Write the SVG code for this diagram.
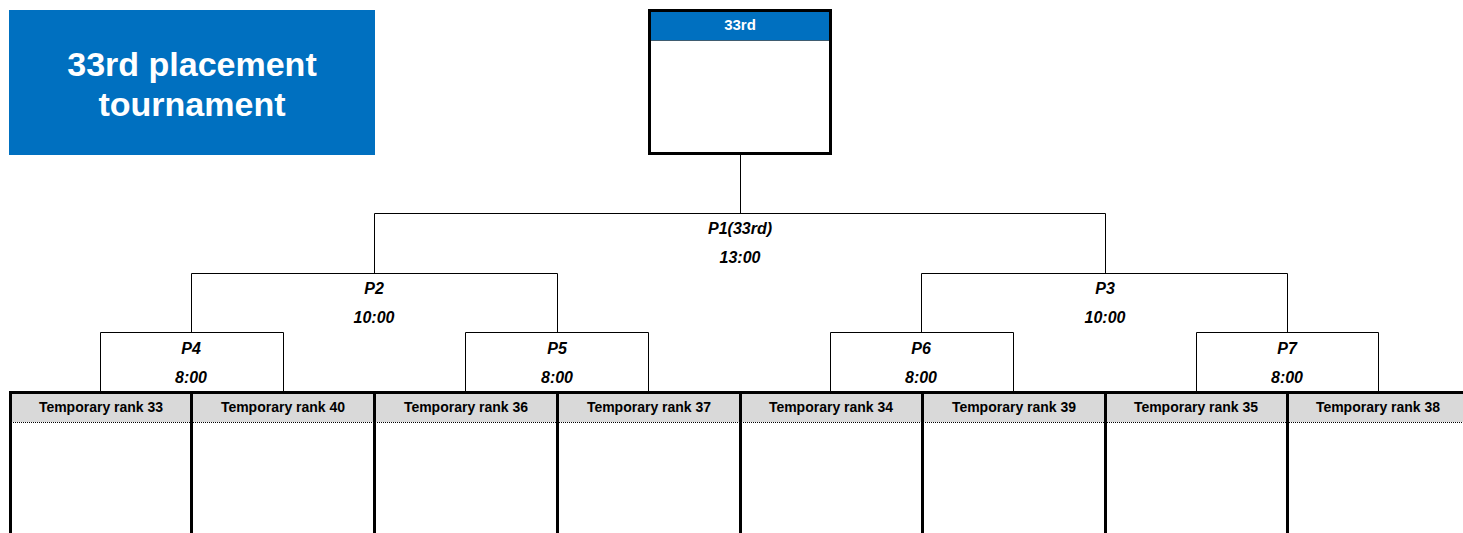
<svg xmlns="http://www.w3.org/2000/svg" width="1463" height="533" viewBox="0 0 1463 533">
<style>
.t{font-family:"Liberation Sans",Arial,sans-serif;font-weight:bold;text-anchor:middle}
.p{font-family:"Liberation Sans",Arial,sans-serif;font-weight:bold;font-style:italic;font-size:16px;text-anchor:middle;fill:#000}
.ln{stroke:#000;stroke-width:1;fill:none}
.thick{stroke:#000;stroke-width:3;fill:none}
.dot{stroke:#000;stroke-width:1;stroke-dasharray:1 1;fill:none}
.hdr{fill:#D9D9D9}
.rk{font-size:14px;fill:#000}
</style>
<rect width="1463" height="533" fill="#fff"/>
<g id="title">
<rect x="9" y="10" width="366" height="145" fill="#0070C0"/>
<text class="t" x="192" y="76" font-size="34" fill="#fff">33rd placement</text>
<text class="t" x="192" y="116" font-size="34" fill="#fff">tournament</text>
</g>
<g id="winner">
<rect x="649.5" y="10.5" width="181" height="143" fill="#fff"/>
<rect x="649.5" y="10.5" width="181" height="30" fill="#0070C0"/>
<line class="dot" x1="649.5" y1="40.5" x2="830.5" y2="40.5"/>
<rect class="thick" x="649.5" y="10.5" width="181" height="143"/>
<text class="t" x="740" y="30" font-size="15" fill="#fff">33rd</text>
</g>
<g id="connectors">
<path class="ln" d="M740.5 155V213.5M374.5 273V213.5H1105.5V273"/>
<path class="ln" d="M191.5 332V273.5H557.5V332M921.5 332V273.5H1287.5V332"/>
<path class="ln" d="M100.5 392V332.5H283.5V392M465.5 392V332.5H648.5V392M830.5 392V332.5H1013.5V392M1196.5 392V332.5H1378.5V392"/>
</g>
<g id="labels">
<text class="p" x="740" y="234">P1(33rd)</text>
<text class="p" x="740" y="263">13:00</text>
<text class="p" x="374" y="294">P2</text>
<text class="p" x="374" y="323">10:00</text>
<text class="p" x="1105" y="294">P3</text>
<text class="p" x="1105" y="323">10:00</text>
<text class="p" x="191" y="354">P4</text>
<text class="p" x="191" y="383">8:00</text>
<text class="p" x="557" y="354">P5</text>
<text class="p" x="557" y="383">8:00</text>
<text class="p" x="921" y="354">P6</text>
<text class="p" x="921" y="383">8:00</text>
<text class="p" x="1287" y="354">P7</text>
<text class="p" x="1287" y="383">8:00</text>
</g>
<g id="ranks">
<rect class="hdr" x="9" y="393" width="1454" height="29"/>
<line class="dot" x1="9" y1="422.5" x2="1463" y2="422.5"/>
<line class="thick" x1="9" y1="392.5" x2="1463" y2="392.5"/>
<path class="thick" d="M10.5 391V533M191.5 391V533M374.5 391V533M557.5 391V533M740.5 391V533M922.5 391V533M1105.5 391V533M1287.5 391V533"/>
<g id="r33"><text class="t rk" x="101" y="412">Temporary rank 33</text></g>
<g id="r40"><text class="t rk" x="283" y="412">Temporary rank 40</text></g>
<g id="r36"><text class="t rk" x="466" y="412">Temporary rank 36</text></g>
<g id="r37"><text class="t rk" x="649" y="412">Temporary rank 37</text></g>
<g id="r34"><text class="t rk" x="831" y="412">Temporary rank 34</text></g>
<g id="r39"><text class="t rk" x="1014" y="412">Temporary rank 39</text></g>
<g id="r35"><text class="t rk" x="1196" y="412">Temporary rank 35</text></g>
<g id="r38"><text class="t rk" x="1378" y="412">Temporary rank 38</text></g>
</g>
</svg>
